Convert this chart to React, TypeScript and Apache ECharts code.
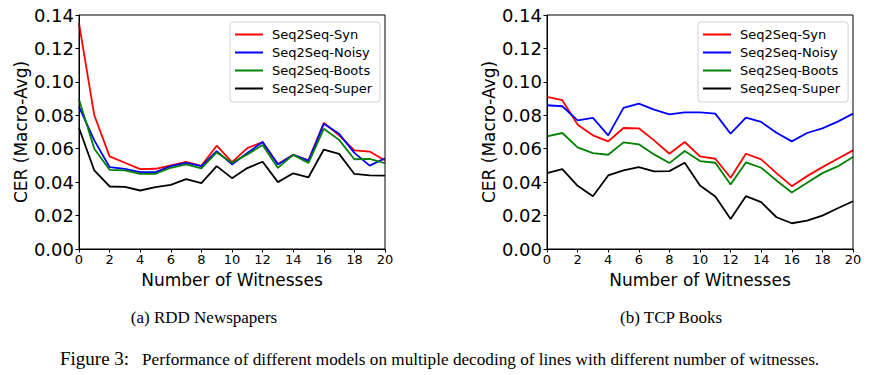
import React, { useEffect, useRef } from "react";
import * as echarts from "echarts";

const witnesses = [0,1,2,3,4,5,6,7,8,9,10,11,12,13,14,15,16,17,18,19,20];
const seriesNames = ["Seq2Seq-Syn", "Seq2Seq-Noisy", "Seq2Seq-Boots", "Seq2Seq-Super"];
const seriesColors = ["#ff0000", "#0000ff", "#008000", "#000000"];
const yTicks = [0, 0.02, 0.04, 0.06, 0.08, 0.10, 0.12, 0.14];

// (a) RDD Newspapers
const rddSyn = [0.135,0.080,0.0554,0.0516,0.0478,0.048,0.050,0.0522,0.0498,0.0618,0.052,0.0604,0.064,0.0509,0.0563,0.053,0.0755,0.068,0.059,0.0583,0.0529];
const rddNoisy = [0.085,0.065,0.049,0.048,0.046,0.046,0.0496,0.0516,0.0496,0.0586,0.0506,0.0574,0.064,0.0505,0.0563,0.0529,0.0749,0.0689,0.0575,0.0499,0.0543];
const rddBoots = [0.0894,0.060,0.0474,0.047,0.045,0.045,0.0486,0.0506,0.0482,0.0578,0.0516,0.0566,0.0622,0.0485,0.0563,0.0515,0.0719,0.0653,0.0537,0.0539,0.0513];
const rddSuper = [0.0724,0.047,0.0374,0.0372,0.035,0.037,0.0384,0.0418,0.0394,0.0496,0.0424,0.0484,0.0522,0.040,0.0453,0.0429,0.0595,0.0569,0.0449,0.0441,0.0439];

// (b) TCP Books
const tcpSyn = [0.091,0.089,0.0744,0.068,0.0644,0.0724,0.0722,0.065,0.057,0.064,0.0554,0.054,0.0426,0.057,0.0536,0.0454,0.0376,0.0436,0.049,0.054,0.059];
const tcpNoisy = [0.086,0.0854,0.077,0.0784,0.068,0.0844,0.087,0.0834,0.0806,0.0818,0.0818,0.081,0.069,0.0786,0.076,0.0696,0.0644,0.0694,0.0722,0.0762,0.081];
const tcpBoots = [0.0674,0.0694,0.0608,0.0574,0.0564,0.0638,0.0626,0.0566,0.0514,0.0586,0.0526,0.0516,0.0386,0.0518,0.0486,0.041,0.0338,0.0396,0.0454,0.0494,0.055];
const tcpSuper = [0.0454,0.0478,0.0378,0.0316,0.044,0.047,0.049,0.0464,0.0466,0.0516,0.038,0.0314,0.018,0.0316,0.028,0.019,0.0154,0.017,0.020,0.0244,0.0286];

const captionA = "(a) RDD Newspapers";
const captionB = "(b) TCP Books";
const figLabel = "Figure 3:";
const figText = "Performance of different models on multiple decoding of lines with different number of witnesses.";

const SANS = "DejaVu Sans";
const SERIF = "Liberation Serif";

export default function App() {
  const ref = useRef<HTMLDivElement>(null);
  useEffect(() => {
    if (!ref.current) return;
    const chart = echarts.init(ref.current, undefined, { renderer: "svg" });
    const grids = [
      { left: 79, top: 15, width: 306, height: 234 },
      { left: 547, top: 15, width: 306, height: 234 },
    ];
    const mkX = (i: number) => ({
      type: "value",
      gridIndex: i,
      min: 0,
      max: 20,
      interval: 2,
      name: "Number of Witnesses",
      nameLocation: "middle",
      nameGap: 22,
      nameTextStyle: { fontFamily: SANS, fontSize: 17, color: "#000" },
      axisLine: { show: true, lineStyle: { color: "#000", width: 1 } },
      axisTick: { show: true, inside: false, length: 3.5, lineStyle: { color: "#000" } },
      axisLabel: { fontFamily: SANS, fontSize: 13, color: "#000", margin: 4 },
      splitLine: { show: false },
    });
    const mkY = (i: number) => ({
      type: "value",
      gridIndex: i,
      min: 0,
      max: 0.14,
      interval: 0.02,
      name: "CER (Macro-Avg)",
      nameLocation: "middle",
      nameRotate: 90,
      nameGap: 50,
      nameTextStyle: { fontFamily: SANS, fontSize: 17, color: "#000" },
      axisLine: { show: true, lineStyle: { color: "#000", width: 1 } },
      axisTick: { show: true, inside: false, length: 3.5, lineStyle: { color: "#000" } },
      axisLabel: {
        fontFamily: SANS,
        fontSize: 18,
        color: "#000",
        margin: 5,
        formatter: (v: number) => v.toFixed(2),
      },
      splitLine: { show: false },
    });
    const data = [
      [rddSyn, rddNoisy, rddBoots, rddSuper],
      [tcpSyn, tcpNoisy, tcpBoots, tcpSuper],
    ];
    const series: any[] = [];
    data.forEach((group, gi) => {
      group.forEach((vals, si) => {
        series.push({
          type: "line",
          name: seriesNames[si],
          xAxisIndex: gi,
          yAxisIndex: gi,
          data: witnesses.map((w, k) => [w, vals[k]]),
          showSymbol: false,
          symbol: "none",
          lineStyle: { color: seriesColors[si], width: 1.8 },
          itemStyle: { color: seriesColors[si] },
          z: 2 + si,
        });
      });
    });
    const mkLegend = (left: number) => ({
      orient: "vertical",
      left,
      top: 22,
      data: seriesNames,
      icon: "rect",
      itemWidth: 28,
      itemHeight: 2,
      itemGap: 5,
      selectedMode: false,
      backgroundColor: "#fff",
      borderColor: "#d0d0d0",
      borderWidth: 1,
      borderRadius: 3,
      padding: [6, 8, 7, 5],
      textStyle: { fontFamily: SANS, fontSize: 13, color: "#000", padding: [0, 0, 0, 4] },
    });
    const gridBorders = grids.map((g) => ({
      type: "rect",
      shape: { x: g.left, y: g.top, width: g.width, height: g.height },
      style: { fill: "none", stroke: "#000", lineWidth: 1 },
      silent: true,
      z: 10,
    }));
    chart.setOption({
      animation: false,
      backgroundColor: "#fff",
      grid: grids,
      xAxis: [mkX(0), mkX(1)],
      yAxis: [mkY(0), mkY(1)],
      legend: [mkLegend(230), mkLegend(698)],
      series,
      graphic: [
        ...gridBorders,
        {
          type: "text",
          style: { text: captionA, x: 204, y: 317, font: `17px "${SERIF}"`, fill: "#000", textAlign: "center", textVerticalAlign: "middle" },
        },
        {
          type: "text",
          style: { text: captionB, x: 671, y: 317, font: `17px "${SERIF}"`, fill: "#000", textAlign: "center", textVerticalAlign: "middle" },
        },
        {
          type: "text",
          style: { text: figLabel, x: 60, y: 358, font: `19px "${SERIF}"`, fill: "#000", textAlign: "left", textVerticalAlign: "middle" },
        },
        {
          type: "text",
          style: { text: figText, x: 142, y: 359, font: `17.2px "${SERIF}"`, fill: "#000", textAlign: "left", textVerticalAlign: "middle" },
        },
      ],
    });
    return () => chart.dispose();
  }, []);
  return (
    <div
      ref={ref}
      style={{ position: "fixed", left: 0, top: 0, width: 870, height: 375, background: "#fff" }}
    />
  );
}
